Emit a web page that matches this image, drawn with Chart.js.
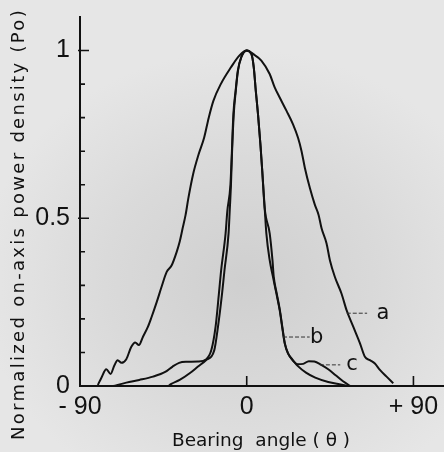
<!DOCTYPE html>
<html>
<head>
<meta charset="utf-8">
<script src="https://cdn.jsdelivr.net/npm/chart.js@4.4.1/dist/chart.umd.min.js"></script>
<style>
  html, body { margin: 0; padding: 0; }
  body {
    width: 444px; height: 452px; overflow: hidden;
    background: radial-gradient(ellipse 70% 60% at 55% 62%, #cfcfcf 0%, #dadada 45%, #e6e6e6 85%);
  }
  canvas { display: block; }
</style>
</head>
<body>
<canvas id="chart" width="444" height="452"></canvas>
<script>
// --- data: bearing angle (deg) vs normalized power ---
var angleA = [-80.4, -78.5, -75.8, -73.5, -71.4, -69.7, -67.6, -65, -62.3, -60.2, -58.2, -56, -53.3, -51.4, -48.6,
  -46, -43.2, -40.5, -37.8, -36.2, -34.6, -33, -31.5, -29, -26, -23, -20.5, -18, -14, -8.5, -4, 0, 3.4, 7.9, 12.4,
  15.1, 17.8, 21.5, 25, 27.7, 29.6, 31.4, 34.1, 36.8, 38.8, 40.4, 43.1, 44.9, 47.6, 51.2, 53.9, 57.5, 61.1, 63.8,
  66.5, 69.2, 71.9, 75.5, 79.1];
var powerA = [0.003, 0.024, 0.05, 0.036, 0.062, 0.077, 0.069, 0.08, 0.117, 0.13, 0.122, 0.147, 0.177, 0.205, 0.25,
  0.295, 0.34, 0.36, 0.40, 0.43, 0.47, 0.51, 0.56, 0.63, 0.69, 0.74, 0.80, 0.85, 0.90, 0.95, 0.985, 1, 0.99, 0.97, 0.93,
  0.89, 0.86, 0.82, 0.78, 0.74, 0.70, 0.65, 0.59, 0.54, 0.51, 0.47, 0.425, 0.375, 0.325, 0.275, 0.226, 0.177, 0.128, 0.087,
  0.077, 0.067, 0.048, 0.028, 0.008];

var angleB = [-42.3, -40.7, -36.2, -30.8, -26.3, -22, -17.5, -15.5, -13.3, -12, -9.8, -9.2, -8.5, -7.9, -7,
  -5.9, -4.7, -2.9, 0, 2.5, 3.8, 4.9, 6.1, 7.4, 8.4, 9.7, 10.6, 12.4, 14.2, 16, 17.8, 19.1, 20.5, 22.3, 24.5,
  27.5, 32, 37, 44, 50, 55];
var powerB = [0, 0.006, 0.018, 0.038, 0.058, 0.077, 0.107, 0.177, 0.276, 0.345, 0.455, 0.52, 0.60, 0.70, 0.81,
  0.88, 0.94, 0.98, 1, 0.99, 0.95, 0.88, 0.81, 0.72, 0.64, 0.53, 0.455, 0.375, 0.325, 0.276, 0.226, 0.177, 0.127, 0.097, 0.08,
  0.06, 0.04, 0.025, 0.012, 0.005, 0];

var angleC = [-72, -65, -58, -50.6, -44, -40, -36.5, -32.6, -26.3, -21.8, -19.1, -16.8, -15, -13.8, -11.4,
  -10.5, -8.8, -8, -7.2, -6, -4.8, -3, 0, 2.5, 3.8, 4.9, 6.1, 7.4, 8.4, 9.7, 12.4, 13.9, 14.6, 16.2, 17.9,
  19.2, 20.6, 22.3, 25, 27.5, 30.5, 33.5, 36.5, 40, 44, 48, 52, 56];
var powerC = [0, 0.01, 0.018, 0.028, 0.042, 0.058, 0.069, 0.072, 0.073, 0.08, 0.107, 0.177, 0.276, 0.345, 0.455,
  0.52, 0.60, 0.70, 0.81, 0.88, 0.94, 0.98, 1, 0.99, 0.95, 0.88, 0.81, 0.72, 0.64, 0.53, 0.455, 0.375, 0.325, 0.276, 0.226,
  0.177, 0.127, 0.097, 0.075, 0.065, 0.066, 0.074, 0.073, 0.064, 0.05, 0.032, 0.014, 0];

var xTicks = [-90, 0, 90];
var xTickLabels = ["- 90", "0", "+ 90"];
var yTicks = [0, 0.5, 1];
var yTickLabels = ["0", "0.5", "1"];
var yMinorTicks = [0.1, 0.2, 0.3, 0.4, 0.6, 0.7, 0.8, 0.9];

var xTitle = "Bearing  angle ( θ )";
var yTitle = "Normalized on-axis power density (Po)";

// curve tags: leader line start/end and letter, in data units
var tags = [
  { text: "a", from: [54, 0.217], to: [65, 0.217], at: [73.5, 0.217] },
  { text: "b", from: [19.6, 0.146], to: [34, 0.146], at: [37.8, 0.143] },
  { text: "c", from: [39.5, 0.063], to: [50.5, 0.063], at: [56.8, 0.063] }
];

var ink = "#111";
var tickFont = "'Liberation Sans Narrow', 'Liberation Sans', Arial, sans-serif";

function pts(xs, ys) {
  return xs.map(function (x, i) { return { x: x, y: ys[i] }; });
}

function curve(label, xs, ys) {
  return {
    label: label,
    data: pts(xs, ys),
    showLine: true,
    borderColor: ink,
    borderWidth: 2,
    pointRadius: 0,
    fill: false,
    cubicInterpolationMode: "monotone"
  };
}

// inward tick marks, titles and curve tags
var decor = {
  id: "decor",
  afterDraw: function (chart) {
    var ctx = chart.ctx, xs = chart.scales.x, ys = chart.scales.y;
    var x0 = xs.left, y0 = ys.bottom;
    ctx.save();
    ctx.strokeStyle = ink;
    ctx.lineWidth = 1.6;
    ctx.beginPath();
    yMinorTicks.forEach(function (v) {
      var y = ys.getPixelForValue(v);
      ctx.moveTo(x0, y); ctx.lineTo(x0 + 5, y);
    });
    yTicks.forEach(function (v) {
      if (v === 0) return;
      var y = ys.getPixelForValue(v);
      ctx.moveTo(x0 - 2, y); ctx.lineTo(x0 + 9, y);
    });
    xTicks.forEach(function (v) {
      if (v === xs.min) return;
      var x = xs.getPixelForValue(v);
      ctx.moveTo(x, y0); ctx.lineTo(x, y0 - 10);
    });
    ctx.stroke();

    // tags
    ctx.lineWidth = 1;
    ctx.strokeStyle = "#333";
    ctx.setLineDash([4, 2]);
    ctx.beginPath();
    tags.forEach(function (t) {
      ctx.moveTo(xs.getPixelForValue(t.from[0]), ys.getPixelForValue(t.from[1]));
      ctx.lineTo(xs.getPixelForValue(t.to[0]), ys.getPixelForValue(t.to[1]));
    });
    ctx.stroke();
    ctx.setLineDash([]);
    ctx.fillStyle = ink;
    ctx.font = "21px 'DejaVu Sans', sans-serif";
    ctx.textAlign = "center";
    ctx.textBaseline = "middle";
    tags.forEach(function (t) {
      ctx.fillText(t.text, xs.getPixelForValue(t.at[0]), ys.getPixelForValue(t.at[1]));
    });

    // axis titles
    ctx.font = "18.5px 'DejaVu Sans', sans-serif";
    ctx.letterSpacing = "0px";
    ctx.fillText(xTitle, 261, 441);
    ctx.translate(19, 224);
    ctx.rotate(-Math.PI / 2);
    ctx.font = "18px 'DejaVu Sans', sans-serif";
    ctx.letterSpacing = "2.3px";
    ctx.fillText(yTitle, 0, 0);
    ctx.restore();
  }
};

new Chart(document.getElementById("chart"), {
  type: "scatter",
  data: {
    datasets: [
      curve("a", angleA, powerA),
      curve("b", angleB, powerB),
      curve("c", angleC, powerC)
    ]
  },
  options: {
    responsive: false,
    animation: false,
    layout: { padding: { top: 17, right: 0, left: 0, bottom: 0 } },
    plugins: { legend: { display: false }, tooltip: { enabled: false } },
    scales: {
      x: {
        type: "linear",
        min: -90,
        max: 106.5,
        afterBuildTicks: function (s) {
          s.ticks = xTicks.map(function (v) { return { value: v }; });
        },
        afterFit: function (s) {
          s.height = 66;
          s.paddingLeft = 0; s.paddingRight = 0;
        },
        ticks: {
          autoSkip: false,
          maxRotation: 0,
          padding: 6,
          color: ink,
          font: { family: tickFont, size: 25 },
          callback: function (v) { return xTickLabels[xTicks.indexOf(v)]; }
        },
        grid: { display: false, drawTicks: false },
        border: { color: ink, width: 2 }
      },
      y: {
        min: 0,
        max: 1.1,
        afterBuildTicks: function (s) {
          s.ticks = yTicks.map(function (v) { return { value: v }; });
        },
        afterFit: function (s) {
          s.width = 80;
          s.paddingTop = 0; s.paddingBottom = 0;
        },
        ticks: {
          padding: 10,
          color: ink,
          font: { family: tickFont, size: 25 },
          callback: function (v) { return yTickLabels[yTicks.indexOf(v)]; }
        },
        grid: { display: false, drawTicks: false },
        border: { color: ink, width: 2 }
      }
    }
  },
  plugins: [decor]
});
</script>
</body>
</html>
